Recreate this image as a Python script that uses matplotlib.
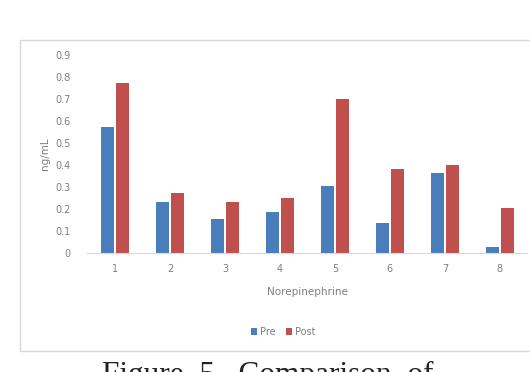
import numpy as np
import matplotlib
matplotlib.use('Agg')
import matplotlib.pyplot as plt
from matplotlib.patches import Rectangle

categories = ['1', '2', '3', '4', '5', '6', '7', '8']
pre = [0.575, 0.23, 0.155, 0.185, 0.305, 0.135, 0.363, 0.025]
post = [0.775, 0.272, 0.233, 0.25, 0.70, 0.38, 0.40, 0.203]
yticks = [0, 0.1, 0.2, 0.3, 0.4, 0.5, 0.6, 0.7, 0.8, 0.9]

BLUE = '#4a7ebb'
RED = '#c0504d'
GRIS = '#7f7f7f'

fig = plt.figure(figsize=(5.30, 3.72), dpi=100)

# marco del grafico
fig.patches.append(Rectangle((0.038, 0.057), 1.0, 0.835, transform=fig.transFigure,
                             facecolor='none', edgecolor='#d9d9d9', linewidth=1.0, zorder=-1))

ax = fig.add_axes([0.165, 0.320, 0.830, 0.532])
ax.patch.set_alpha(0)

x = np.arange(len(categories))
w = 0.235
ax.bar(x - w / 2 - 0.015, pre, w, color=BLUE, label='Pre')
ax.bar(x + w / 2 + 0.015, post, w, color=RED, label='Post')

ax.set_xlim(-0.5, len(categories) - 0.5)
ax.set_ylim(0, 0.9)
ax.set_yticks(yticks)
ax.set_yticklabels([('%g' % t) for t in yticks])
ax.set_xticks(x)
ax.set_xticklabels(categories)

for s in ['top', 'right', 'left']:
    ax.spines[s].set_visible(False)
ax.spines['bottom'].set_color('#d9d9d9')
ax.tick_params(axis='both', length=0, labelsize=7, colors=GRIS, pad=8)
ax.tick_params(axis='y', pad=12)

ax.set_ylabel('ng/mL', fontsize=7.5, color=GRIS, labelpad=4)
ax.set_xlabel('Norepinephrine', fontsize=7.5, color=GRIS, labelpad=9)

ax.legend(loc='upper center', bbox_to_anchor=(0.445, -0.33), ncol=2, frameon=False,
          fontsize=7, labelcolor=GRIS, handlelength=0.7, handleheight=0.7,
          handletextpad=0.3, columnspacing=1.0)

fig.text(0.192, -0.03, 'Figure  5.  Comparison  of', fontsize=22.5,
         family='Liberation Serif', color='#222222', va='baseline')

fig.savefig('out.png', dpi=100)
